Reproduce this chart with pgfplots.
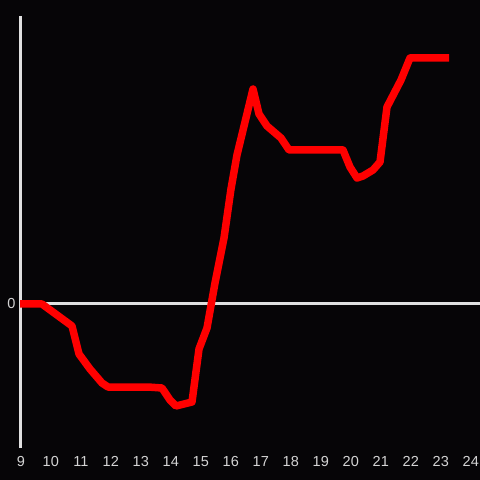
\documentclass[border=0pt]{standalone}
\usepackage{pgfplots}
\pgfplotsset{compat=1.18}
\usepackage{fontspec}
\setmainfont{Liberation Sans}
\definecolor{bg}{HTML}{060507}
\definecolor{lbl}{HTML}{D4D4D4}
\definecolor{axl}{HTML}{E0E0E0}
\begin{document}
\begin{tikzpicture}[x=1pt,y=1pt]
\fill[bg] (0,0) rectangle (480,480);
\useasboundingbox (0,0) rectangle (480,480);
\begin{axis}[
  at={(20pt,32pt)}, anchor=south west,
  scale only axis, width=460pt, height=432pt,
  xmin=9, xmax=24.3333, ymin=-144, ymax=288,
  axis x line*=bottom,
  x axis line style={draw=none},
  axis y line*=left,
  y axis line style={axl, line width=3pt, -},
  xtick={9,...,24}, ytick={0},
  major tick length=0pt,
  xticklabel style={yshift=-4.5pt, xshift=0.8pt},
  yticklabel style={xshift=-1pt},
  ymajorgrids, grid style={axl, line width=3pt},
  clip=false,
  tick label style={font=\fontsize{14.5}{16}\selectfont, text=lbl},
  /pgf/number format/assume math mode=true,
]
\addplot[red, line width=7.5pt, line join=round] coordinates {
(9,0) (9.733,0) (10.733,-22) (10.967,-50) (11.333,-65) (11.733,-79) (11.933,-83)
(13.267,-83) (13.733,-84) (14.0,-96) (14.2,-102) (14.733,-98) (14.967,-45)
(15.233,-24) (15.5,21) (15.8,66) (16.033,115) (16.233,149) (16.767,215)
(16.967,190) (17.233,178) (17.7,166) (17.967,154) (19.767,154) (20.0,137)
(20.233,126) (20.433,128) (20.767,134) (21.0,142) (21.233,197) (21.7,224)
(22.0,246) (23.3,246)
};
\end{axis}
\end{tikzpicture}
\end{document}
